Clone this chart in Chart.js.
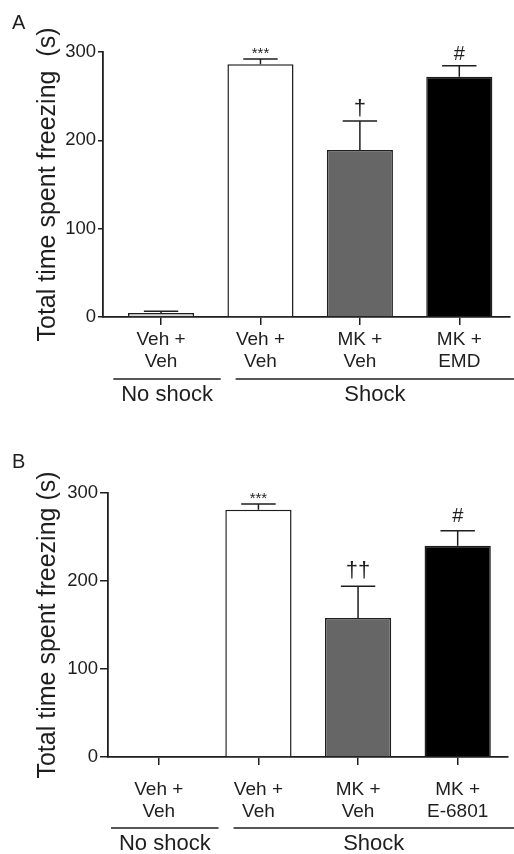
<!DOCTYPE html>
<html>
<head>
<meta charset="utf-8">
<script src="https://cdn.jsdelivr.net/npm/chart.js@4.4.1/dist/chart.umd.min.js"></script>
<style>
  html, body { margin: 0; padding: 0; background: #fff; }
  #wrap { position: relative; width: 514px; height: 854px; }
  canvas { position: absolute; left: 0; }
</style>
</head>
<body>
<div id="wrap">
  <canvas id="chartA" width="514" height="420" style="top:0"></canvas>
  <canvas id="chartB" width="514" height="434" style="top:420px"></canvas>
</div>
<script>
// values (mean + SEM, seconds)
const catsA = [['Veh +', 'Veh'], ['Veh +', 'Veh'], ['MK +', 'Veh'], ['MK +', 'EMD']];
const meansA = [4.5, 286, 189, 272];
const semA = [2, 6, 33, 12.5];
const marksA = ['', '***', '\u2020', '#'];

const catsB = [['Veh +', 'Veh'], ['Veh +', 'Veh'], ['MK +', 'Veh'], ['MK +', 'E-6801']];
const meansB = [0, 281, 158, 240];
const semB = [0, 6.5, 36, 17];
const marksB = ['', '***', '\u2020\u2020', '#'];

const barColors = ['#dcdcdc', '#ffffff', '#666666', '#000000'];
const groupNames = ['No shock', 'Shock'];
const groupSpans = [[0, 0], [1, 3]];
const yTicks = [0, 100, 200, 300];

const INK = '#1e1e1e';
Chart.defaults.font.family = "'Liberation Sans', Arial, sans-serif";
Chart.defaults.color = INK;

const decor = {
  id: 'decor',
  afterDatasetsDraw(chart, args, o) {
    const ctx = chart.ctx;
    const y = chart.scales.y;
    const bars = chart.getDatasetMeta(0).data;
    ctx.save();
    ctx.strokeStyle = INK;
    ctx.lineWidth = 1.5;
    bars.forEach((bar, i) => {
      if (o.sem[i] > 0) {
        const top = y.getPixelForValue(o.means[i] + o.sem[i]);
        const half = bar.width * 0.26;
        ctx.beginPath();
        ctx.moveTo(bar.x, bar.y);
        ctx.lineTo(bar.x, top);
        ctx.moveTo(bar.x - half, top);
        ctx.lineTo(bar.x + half, top);
        ctx.stroke();
        const m = o.marks[i];
        if (m) {
          const small = m === '***';
          ctx.fillStyle = INK;
          ctx.textAlign = 'center';
          ctx.textBaseline = 'alphabetic';
          ctx.font = (small ? '15px' : (m === '#' ? '20px' : '22px')) + " 'Liberation Sans', Arial, sans-serif";
          ctx.fillText(m, bar.x, top - (small ? 1 : o.markGap));
        }
      }
    });
    ctx.restore();
  },
  afterDraw(chart, args, o) {
    const ctx = chart.ctx;
    const x = chart.scales.x;
    const base = chart.chartArea.bottom;
    ctx.save();
    ctx.strokeStyle = INK;
    ctx.fillStyle = INK;
    ctx.lineWidth = 1.3;
    ctx.textAlign = 'center';
    ctx.textBaseline = 'middle';
    ctx.font = "22px 'Liberation Sans', Arial, sans-serif";
    groupSpans.forEach((span, g) => {
      const x0 = x.getPixelForValue(span[0] - (g === 0 ? 0.48 : 0.25));
      const x1 = g === groupSpans.length - 1 ? chart.width : x.getPixelForValue(span[1] + 0.6);
      const ly = base + o.lineGap;
      ctx.beginPath();
      ctx.moveTo(x0, ly);
      ctx.lineTo(x1, ly);
      ctx.stroke();
      ctx.fillText(groupNames[g], (x0 + x1) / 2, ly + 16);
    });
    ctx.textAlign = 'left';
    ctx.font = "20px 'Liberation Sans', Arial, sans-serif";
    ctx.fillText(o.letter, 12, o.letterY);
    ctx.restore();
  }
};

function makeChart(id, cats, means, sem, marks, lay) {
  return new Chart(document.getElementById(id), {
    type: 'bar',
    data: {
      datasets: [{
        data: means.map((v, i) => ({ x: i, y: v })),
        backgroundColor: barColors,
        borderColor: INK,
        borderWidth: 1.5,
        barPercentage: 0.665,
        categoryPercentage: 1
      }]
    },
    options: {
      responsive: false,
      animation: false,
      layout: { padding: { top: lay.top, right: lay.right, left: 0, bottom: 0 } },
      plugins: {
        legend: { display: false },
        tooltip: { enabled: false },
        decor: { means: means, sem: sem, marks: marks, lineGap: lay.lineGap, markGap: lay.markGap, letter: lay.letter, letterY: lay.letterY }
      },
      scales: {
        x: {
          type: 'linear',
          offset: false,
          min: lay.xmin,
          max: lay.xmax,
          afterBuildTicks: s => { s.ticks = cats.map((c, i) => ({ value: i })); },
          afterFit: s => { s.height = lay.xHeight; },
          ticks: {
            font: { size: 19 },
            color: INK,
            padding: lay.xPad,
            maxRotation: 0,
            autoSkip: false,
            callback: (v, i) => cats[i]
          },
          grid: { offset: false, drawOnChartArea: false, tickLength: 8, color: INK, lineWidth: 1.5 },
          border: { color: INK, width: 1.8 }
        },
        y: {
          min: 0,
          max: 300,
          afterBuildTicks: s => { s.ticks = yTicks.map(v => ({ value: v })); },
          afterFit: s => { s.width = lay.yWidth; },
          ticks: { font: { size: 18.5 }, color: INK, padding: lay.yPad },
          grid: { drawOnChartArea: false, tickLength: lay.yTick, color: INK, lineWidth: 1.5 },
          border: { color: INK, width: 1.8 },
          title: {
            display: true,
            text: lay.title,
            font: { size: 25 },
            color: INK,
            padding: { top: 33, bottom: 0 }
          }
        }
      }
    },
    plugins: [decor]
  });
}

makeChart('chartA', catsA, meansA, semA, marksA, {
  top: 52, right: 4, xHeight: 103, yWidth: 103, xmin: -0.584, xmax: 3.51,
  xPad: 3, yPad: 2, yTick: 5, lineGap: 62, markGap: 6, letter: 'A', letterY: 23,
  title: 'Total time spent freezing  (s)'
});
makeChart('chartB', catsB, meansB, semB, marksB, {
  top: 73, right: 6, xHeight: 97, yWidth: 108, xmin: -0.51, xmax: 3.505,
  xPad: 13, yPad: 2, yTick: 8, lineGap: 71, markGap: 9, letter: 'B', letterY: 42,
  title: 'Total time spent freezing (s)'
});
</script>
</body>
</html>
